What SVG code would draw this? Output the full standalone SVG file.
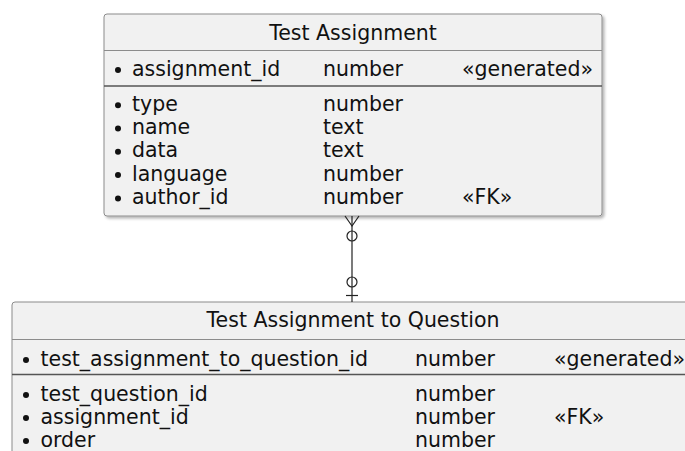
<svg xmlns="http://www.w3.org/2000/svg" width="685" height="451" viewBox="0 0 685 451">
  <defs>
    <filter id="shadow" x="-5%" y="-5%" width="115%" height="115%">
      <feGaussianBlur in="SourceAlpha" stdDeviation="1.5"/>
      <feOffset dx="2" dy="2" result="b"/>
      <feComponentTransfer><feFuncA type="linear" slope="0.3"/></feComponentTransfer>
      <feMerge><feMergeNode/><feMergeNode in="SourceGraphic"/></feMerge>
    </filter>
  </defs>
  <style>
    .box { fill: #F1F1F1; stroke: #8c8c8c; stroke-width: 1; }
    .sep1 { stroke: #8c8c8c; stroke-width: 1; }
    .sep2 { stroke: #555555; stroke-width: 1.5; }
    text { font-family: "DejaVu Sans", sans-serif; font-size: 20.5px; fill: #111111; }
    .title { text-anchor: middle; }
    .dot { fill: #111111; }
    .conn { fill: none; stroke: #222222; stroke-width: 1.2; }
  </style>
  <rect width="685" height="451" fill="#ffffff"/>

  <!-- Entity: Test Assignment -->
  <g id="test_assignment">
    <rect class="box" x="104" y="14" width="498" height="202" rx="3" filter="url(#shadow)"/>
    <text class="title" x="353" y="39.5">Test Assignment</text>
    <line class="sep1" x1="104" y1="50.5" x2="602" y2="50.5"/>
    <circle class="dot" cx="118" cy="70" r="3"/>
    <text x="132" y="75.5">assignment_id</text>
    <text x="323" y="75.5">number</text>
    <text x="462" y="75.5">«generated»</text>
    <line class="sep2" x1="104" y1="86" x2="602" y2="86"/>
    <circle class="dot" cx="118" cy="105.2" r="3"/>
    <text x="132" y="110.7">type</text>
    <text x="323" y="110.7">number</text>
    <circle class="dot" cx="118" cy="128.5" r="3"/>
    <text x="132" y="134">name</text>
    <text x="323" y="134">text</text>
    <circle class="dot" cx="118" cy="151.8" r="3"/>
    <text x="132" y="157.3">data</text>
    <text x="323" y="157.3">text</text>
    <circle class="dot" cx="118" cy="175.1" r="3"/>
    <text x="132" y="180.6">language</text>
    <text x="323" y="180.6">number</text>
    <circle class="dot" cx="118" cy="198.4" r="3"/>
    <text x="132" y="203.9">author_id</text>
    <text x="323" y="203.9">number</text>
    <text x="462" y="203.9">«FK»</text>
  </g>

  <!-- Entity: Test Assignment to Question -->
  <g id="test_assignment_to_question">
    <rect class="box" x="12" y="302" width="682" height="170" rx="3" filter="url(#shadow)"/>
    <text class="title" x="353" y="327">Test Assignment to Question</text>
    <line class="sep1" x1="12" y1="339.5" x2="694" y2="339.5"/>
    <circle class="dot" cx="26" cy="360" r="3"/>
    <text x="40.5" y="365.5">test_assignment_to_question_id</text>
    <text x="415" y="365.5">number</text>
    <text x="554" y="365.5">«generated»</text>
    <line class="sep2" x1="12" y1="374.5" x2="694" y2="374.5"/>
    <circle class="dot" cx="26" cy="395" r="3"/>
    <text x="40.5" y="400.5">test_question_id</text>
    <text x="415" y="400.5">number</text>
    <circle class="dot" cx="26" cy="418" r="3"/>
    <text x="40.5" y="423.5">assignment_id</text>
    <text x="415" y="423.5">number</text>
    <text x="554" y="423.5">«FK»</text>
    <circle class="dot" cx="26" cy="441" r="3"/>
    <text x="40.5" y="446.5">order</text>
    <text x="415" y="446.5">number</text>
  </g>

  <!-- Relationship: many (zero or more) to zero-or-one -->
  <g id="connectors">
    <line class="conn" x1="352" y1="216" x2="352" y2="302"/>
    <path class="conn" d="M345 216 L352 226 L359 216"/>
    <circle class="conn" cx="352" cy="236" r="5" fill="#ffffff"/>
    <circle class="conn" cx="352" cy="282" r="5" fill="#ffffff"/>
    <line class="conn" x1="346" y1="295.5" x2="358" y2="295.5"/>
  </g>
</svg>
